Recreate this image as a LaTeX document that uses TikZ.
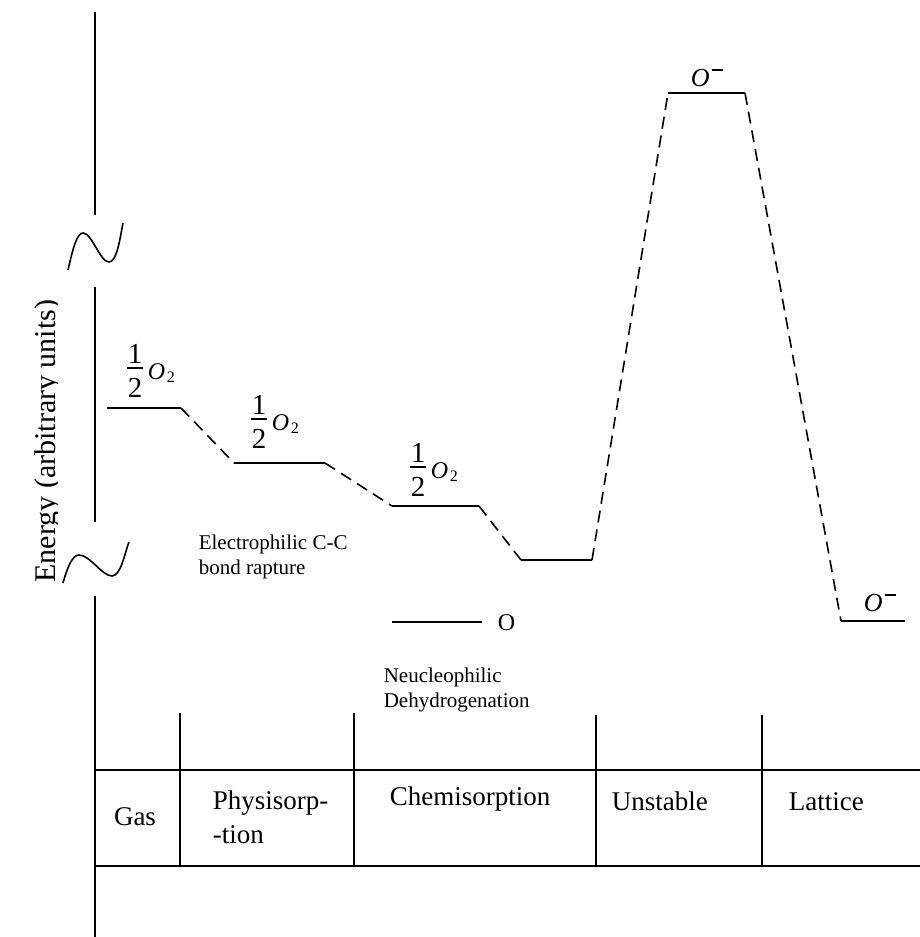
\documentclass[tikz,border=0pt]{standalone}
\usepackage{fontspec}
\setmainfont{Liberation Serif}
\newcommand\halfat[3]{%
  \node[dig,anchor=base] (#1n) at ({#2},{#3-5}) {1};
  \node[dig,anchor=base] (#1d) at ({#2},{#3+29}) {2};
  \draw[line width=1.4pt] ({#2-8},#3) -- ({#2+8},#3);
  \node[oit,anchor=base west] (#1o) at ({#2+12},{#3+11}) {O};
  \node[subs,anchor=base west] (#1s) at ({#2+31},{#3+14}) {2};
}
\newcommand\Ominus{{\fontsize{26}{26}\selectfont\itshape O}\hspace{2pt}\raisebox{15pt}{\rule{11pt}{1.6pt}}}
\begin{document}
\begin{tikzpicture}[x=1pt,y=-1pt,line width=1.6pt,
  lvl/.style={line width=1.6pt},
  link/.style={dash pattern=on 12pt off 7pt,line width=1.6pt},
  note/.style={font=\fontsize{21}{25}\selectfont,align=left,inner sep=0pt},
  tab/.style={font=\fontsize{27}{34}\selectfont,align=left,inner sep=0pt},
  dig/.style={font=\fontsize{29}{29}\selectfont,inner sep=0pt},
  oit/.style={font=\fontsize{24}{24}\selectfont\itshape,inner sep=0pt},
  subs/.style={font=\fontsize{16}{16}\selectfont,inner sep=0pt},
  ion/.style={inner sep=0pt,anchor=base west}]
\useasboundingbox (0,0) rectangle (920,937);
% axis
\coordinate (ax1) at (95,12);  \coordinate (ax2) at (95,215);
\coordinate (ax3) at (95,287); \coordinate (ax4) at (95,522);
\coordinate (ax5) at (95,596); \coordinate (ax6) at (95,937);
\draw (ax1) -- (ax2);
\draw (ax3) -- (ax4);
\draw (ax5) -- (ax6);
% break marks
\draw (68,270) .. controls (73,248) and (77,233) .. (83,233) .. controls (92,233) and (100,262) .. (109,262) .. controls (117,262) and (120,238) .. (123,223);
\draw (63,583) .. controls (68,565) and (73,555) .. (79,555) .. controls (90,555) and (102,576) .. (112,576) .. controls (121,576) and (125,552) .. (129,542);
% axis label
\begin{scope}
\clip (0,0) rectangle (57,937);
\node[font=\fontsize{30}{36}\selectfont,rotate=90,anchor=base,inner sep=0pt] (elab) at (55,441) {Energy (arbitrary units)};
\end{scope}
% levels
\coordinate (a1) at (107,408); \coordinate (a2) at (181,408);
\coordinate (b1) at (234,463); \coordinate (b2) at (325,463);
\coordinate (c1) at (392,506); \coordinate (c2) at (479,506);
\coordinate (d1) at (521,560); \coordinate (d2) at (592,560);
\coordinate (e1) at (668,93);  \coordinate (e2) at (745,93);
\coordinate (f1) at (841,621); \coordinate (f2) at (905,621);
\coordinate (g1) at (392,622); \coordinate (g2) at (482,622);
\draw[lvl] (a1) -- (a2);
\draw[lvl] (b1) -- (b2);
\draw[lvl] (c1) -- (c2);
\draw[lvl] (d1) -- (d2);
\draw[lvl] (e1) -- (e2);
\draw[lvl] (f1) -- (f2);
\draw[lvl] (g1) -- (g2);
\draw[link] (a2) -- (b1);
\draw[link] (b2) -- (c1);
\draw[link] (c2) -- (d1);
\draw[link] (d2) -- (e1);
\draw[link] (e2) -- (f1);
% species labels
\halfat{s1}{135}{368}
\halfat{s2}{259}{419}
\halfat{s3}{418}{467}
\node[ion] (s4) at (690,86) {\Ominus};
\node[ion] (s5) at (863,611) {\Ominus};
\node[inner sep=0pt,anchor=base west,font=\fontsize{24}{24}\selectfont] (oat) at (497,630) {O};
% notes
\node[note,anchor=north west] (elec) at (198,534) {Electrophilic C-C\\bond rapture};
\node[note,anchor=north west] (nuc) at (383,667) {Neucleophilic\\Dehydrogenation};
% table
\coordinate (h1l) at (95,770); \coordinate (h1r) at (920,770);
\coordinate (h2l) at (95,866); \coordinate (h2r) at (920,866);
\draw (h1l) -- (h1r);
\draw (h2l) -- (h2r);
\foreach \xx/\yy in {180/713,354/713,596/715,762/715}
  \draw (\xx,\yy) -- (\xx,866);
\node[tab,anchor=base] (gas) at (135,825) {Gas};
\node[tab,anchor=north west] (phys) at (212,790) {Physisorp-\\-tion};
\node[tab,anchor=base west] (chem) at (389,805) {Chemisorption};
\node[tab,anchor=base west] (unst) at (611,810) {Unstable};
\node[tab,anchor=base west] (latt) at (788,810) {Lattice};
\end{tikzpicture}
\end{document}
